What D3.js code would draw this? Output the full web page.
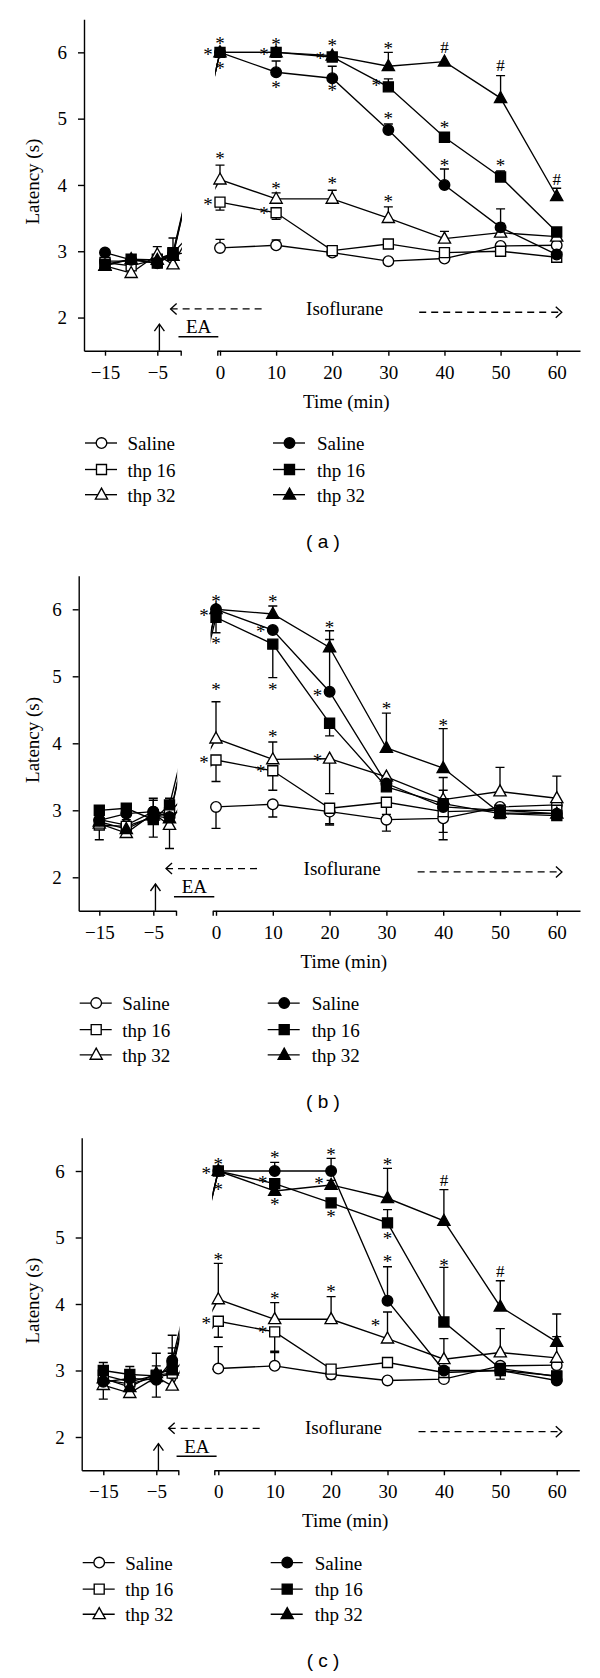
<!DOCTYPE html>
<html><head><meta charset="utf-8">
<script src="https://cdn.jsdelivr.net/npm/d3@7"></script>
<style>body{margin:0;background:#fff}svg{display:block}svg text{fill:#000;opacity:0.999}</style>
</head><body>
<svg id="chart" width="600" height="1678"></svg>
<script>
// ---------- data ----------
const times = [-15, -10, -5, -2, 0, 10, 20, 30, 40, 50, 60];
const leftTicks = [-15, -5];
const rightTicks = [0, 10, 20, 30, 40, 50, 60];
const yTicks = [2, 3, 4, 5, 6];
const legendLabels = ["Saline", "thp 16", "thp 32", "Saline", "thp 16", "thp 32"];
const panelLabels = ["( a )", "( b )", "( c )"];

// panel (a)
const aOpenSaline   = [2.85, 2.85, 2.88, 2.95, 3.05, 3.09, 2.98, 2.85, 2.89, 3.08, 3.09];
const aOpenThp16    = [2.83, 2.78, 2.88, 2.97, 3.74, 3.58, 3.01, 3.11, 2.98, 3.00, 2.91];
const aOpenThp32    = [2.78, 2.67, 2.95, 2.80, 4.08, 3.79, 3.79, 3.50, 3.19, 3.28, 3.22];
const aFilledSaline = [2.98, 2.87, 2.82, 2.95, 6.00, 5.70, 5.61, 4.83, 4.00, 3.36, 2.95];
const aFilledThp16  = [2.80, 2.88, 2.82, 2.98, 6.00, 6.00, 5.93, 5.48, 4.72, 4.12, 3.29];
const aFilledThp32  = [2.78, 2.88, 2.87, 2.93, 6.00, 6.00, 5.95, 5.79, 5.86, 5.31, 3.83];
const aErrOpenSaline   = [null, null, null, null, 3.18, 3.17, null, null, null, null, null];
const aErrOpenThp16    = [null, null, null, 3.20, 3.62, 3.48, null, null, null, null, null];
const aErrOpenThp32    = [null, null, 3.07, null, 4.30, 3.88, 3.92, 3.67, 3.30, 3.42, null];
const aErrFilledSaline = [null, null, null, null, null, 5.87, 5.79, 4.92, 4.24, 3.64, null];
const aErrFilledThp16  = [null, null, null, null, null, null, null, 5.60, null, 4.21, null];
const aErrFilledThp32  = [null, null, null, null, null, null, null, 6.00, null, 5.65, 3.95];
const aMarks = [
  [0, 6.17, "*", "c"], [0, 6.0, "*", "l"], [0, 5.79, "*", "c"],
  [10, 6.15, "*", "c"], [10, 6.0, "*", "l"], [10, 5.51, "*", "c"],
  [0, 4.43, "*", "c"], [0, 3.75, "*", "l"], [10, 3.98, "*", "c"], [10, 3.60, "*", "l"],
  [20, 6.14, "*", "c"], [20, 5.94, "*", "l"], [20, 5.46, "*", "c"],
  [30, 6.09, "*", "c"], [30, 5.54, "*", "l"], [30, 5.04, "*", "c"],
  [40, 6.07, "#", "c"], [40, 4.91, "*", "c"], [40, 4.33, "*", "c"],
  [50, 5.81, "#", "c"], [50, 4.33, "*", "c"], [60, 4.08, "#", "c"],
  [20, 4.06, "*", "c"], [30, 3.79, "*", "c"]
];

// panel (b)
const bOpenSaline   = [2.86, 2.78, 2.98, 2.95, 3.05, 3.09, 2.98, 2.86, 2.88, 3.05, 3.08];
const bOpenThp16    = [2.78, 2.76, 2.90, 2.96, 3.75, 3.59, 3.03, 3.12, 2.98, 3.00, 3.00];
const bOpenThp32    = [2.80, 2.66, 2.95, 2.78, 4.07, 3.76, 3.77, 3.50, 3.16, 3.28, 3.18];
const bFilledSaline = [2.85, 2.95, 2.98, 2.90, 6.00, 5.69, 4.77, 3.40, 3.05, 3.00, 2.95];
const bFilledThp16  = [3.00, 3.03, 2.86, 3.08, 5.88, 5.48, 4.30, 3.35, 3.10, 2.95, 2.92];
const bFilledThp32  = [2.83, 2.72, 2.92, 2.88, 6.00, 5.93, 5.43, 3.93, 3.63, 2.96, 2.95];
const bErrOpenSaline   = [null, null, null, null, 2.73, 2.90, 2.80, 2.69, 2.56, null, null];
const bErrOpenThp16    = [2.56, 2.86, 2.60, 2.43, 3.43, 3.30, 2.78, 2.94, 2.67, null, null];
const bErrOpenThp32    = [null, null, 3.18, null, 4.62, 4.02, 3.25, null, 3.49, 3.64, 3.51];
const bErrFilledSaline = [null, null, 3.15, null, null, null, 5.55, null, null, null, null];
const bErrFilledThp16  = [null, null, null, 3.18, 5.65, 4.98, 4.11, null, 3.30, null, null];
const bErrFilledThp32  = [null, null, null, null, null, 6.05, 5.68, 4.45, 4.22, null, null];
const bMarks = [
  [0, 6.16, "*", "c"], [0, 5.95, "*", "l"], [0, 5.53, "*", "c"],
  [10, 6.15, "*", "c"], [10, 5.71, "*", "l"], [10, 4.84, "*", "c"],
  [20, 5.77, "*", "c"], [20, 4.75, "*", "l"],
  [0, 4.84, "*", "c"], [0, 3.75, "*", "l"], [10, 4.14, "*", "c"], [10, 3.62, "*", "l"],
  [20, 3.78, "*", "l"], [30, 4.55, "*", "c"], [40, 4.31, "*", "c"]
];

// panel (c)
const cOpenSaline   = [2.86, 2.80, 2.90, 2.95, 3.03, 3.07, 2.94, 2.85, 2.87, 3.07, 3.08];
const cOpenThp16    = [2.93, 2.83, 2.93, 2.96, 3.74, 3.58, 3.02, 3.12, 2.97, 3.00, 2.92];
const cOpenThp32    = [2.78, 2.66, 2.90, 2.77, 4.07, 3.77, 3.77, 3.48, 3.17, 3.27, 3.19];
const cFilledSaline = [2.83, 2.88, 2.86, 3.15, 6.00, 6.00, 6.00, 4.05, 3.00, 3.00, 2.85];
const cFilledThp16  = [3.00, 2.94, 2.92, 3.06, 6.00, 5.81, 5.52, 5.22, 3.73, 3.03, 2.91];
const cFilledThp32  = [2.88, 2.75, 2.96, 3.00, 6.00, 5.70, 5.79, 5.59, 5.25, 3.96, 3.43];
const cErrOpenSaline   = [2.57, null, 2.60, null, 3.36, 3.27, null, null, null, null, null];
const cErrOpenThp16    = [null, null, null, null, 3.50, 3.29, 2.87, null, null, 2.87, null];
const cErrOpenThp32    = [null, null, 3.07, null, 4.61, 4.02, 4.11, 3.88, 3.48, 3.63, 3.51];
const cErrFilledSaline = [3.12, 3.06, 3.26, 3.53, null, 6.13, 6.19, 4.56, null, null, null];
const cErrFilledThp16  = [null, null, null, 3.34, null, null, null, 5.42, 4.55, null, null];
const cErrFilledThp32  = [null, null, null, 3.26, null, null, 5.86, 6.04, 5.72, 4.35, 3.85];
const cMarks = [
  [0, 6.14, "*", "c"], [0, 6.0, "*", "l"], [0, 5.76, "*", "c"],
  [10, 6.24, "*", "c"], [10, 5.86, "*", "l"], [10, 5.54, "*", "c"],
  [20, 6.29, "*", "c"], [20, 5.85, "*", "l"], [20, 5.35, "*", "c"],
  [30, 6.14, "*", "c"], [30, 5.02, "*", "c"], [30, 4.67, "*", "c"],
  [0, 4.71, "*", "c"], [0, 3.74, "*", "l"], [10, 4.12, "*", "c"], [10, 3.61, "*", "l"],
  [20, 4.22, "*", "c"], [30, 3.72, "*", "l"],
  [40, 5.86, "#", "c"], [40, 4.62, "*", "c"], [50, 4.49, "#", "c"]
];

// ---------- layout / style ----------
const FONT = "'Liberation Serif','Times New Roman',serif";
const SANS = "'Liberation Sans',Arial,sans-serif";
const styles = [
  {shape: "circle", fill: "#fff"}, {shape: "square", fill: "#fff"}, {shape: "triangle", fill: "#fff"},
  {shape: "circle", fill: "#000"}, {shape: "square", fill: "#000"}, {shape: "triangle", fill: "#000"}
];
const geoms = [
  {yAxisX: 84, yTop: 19.2, yBottom: 350.7, l15: 105, l5: 157.3, lEnd: 180.7, rStart: 217.3, r0: 220, r60: 556.7, rEnd: 580},
  {yAxisX: 78.7, yTop: 575.8, yBottom: 910.8, l15: 99.3, l5: 153.3, lEnd: 176, rStart: 212.7, r0: 216, r60: 556.8, rEnd: 580},
  {yAxisX: 81.7, yTop: 1137.75, yBottom: 1470.25, l15: 103.3, l5: 156.3, lEnd: 178.3, rStart: 214.3, r0: 218.3, r60: 556.7, rEnd: 579.3}
];
const panels = [
  {series: [aOpenSaline, aOpenThp16, aOpenThp32, aFilledSaline, aFilledThp16, aFilledThp32],
   errs: [aErrOpenSaline, aErrOpenThp16, aErrOpenThp32, aErrFilledSaline, aErrFilledThp16, aErrFilledThp32], marks: aMarks},
  {series: [bOpenSaline, bOpenThp16, bOpenThp32, bFilledSaline, bFilledThp16, bFilledThp32],
   errs: [bErrOpenSaline, bErrOpenThp16, bErrOpenThp32, bErrFilledSaline, bErrFilledThp16, bErrFilledThp32], marks: bMarks},
  {series: [cOpenSaline, cOpenThp16, cOpenThp32, cFilledSaline, cFilledThp16, cFilledThp32],
   errs: [cErrOpenSaline, cErrOpenThp16, cErrOpenThp32, cErrFilledSaline, cErrFilledThp16, cErrFilledThp32], marks: cMarks}
];

const svg = d3.select("#chart");
const SW = 1.35;

function markerPath(shape) {
  if (shape === "circle") return d3.symbol(d3.symbolCircle, Math.PI * 5.3 * 5.3)();
  if (shape === "square") return "M-5,-5H5V5H-5Z";
  return "M0,-6.6L6.1,4.4L-6.1,4.4Z";
}

function styleAxis(ax) {
  ax.attr("font-family", FONT).attr("font-size", 19);
  ax.selectAll("path,line").attr("stroke", "#000").attr("stroke-width", 1.4);
  ax.selectAll("text").attr("fill", "#000");
}

panels.forEach((p, idx) => {
  const g = geoms[idx];
  const Y = d3.scaleLinear().domain([1.5, 6.5]).range([g.yBottom, g.yTop]);
  const L = d3.scaleLinear().domain([-15, -5]).range([g.l15, g.l5]);
  const R = d3.scaleLinear().domain([0, 60]).range([g.r0, g.r60]);
  const X = t => (t < 0 ? L(t) : R(t));
  const root = svg.append("g");

  // clip for the axis break
  const cid = "brk" + idx;
  const cp = root.append("clipPath").attr("id", cid);
  cp.append("rect").attr("x", 0).attr("y", g.yTop - 30).attr("width", g.lEnd + 1.2).attr("height", g.yBottom - g.yTop + 60);
  cp.append("rect").attr("x", g.rStart - 2).attr("y", g.yTop - 30).attr("width", 600).attr("height", g.yBottom - g.yTop + 60);

  // axes
  const yAxis = d3.axisLeft(Y).tickValues(yTicks).tickSize(6).tickSizeOuter(0).tickPadding(11).tickFormat(d3.format("d"));
  root.append("g").attr("transform", `translate(${g.yAxisX},0)`).call(yAxis).call(styleAxis);

  const Lax = L.copy().domain([L.invert(g.yAxisX), L.invert(g.lEnd)]).range([g.yAxisX, g.lEnd]);
  const lEndT = L.invert(g.lEnd);
  const fmt = d3.format("d");
  const xAxisL = d3.axisBottom(Lax).tickValues(leftTicks.concat([lEndT])).tickSize(5).tickSizeOuter(0).tickPadding(9.5)
    .tickFormat(d => (leftTicks.includes(d) ? fmt(d) : ""));
  root.append("g").attr("transform", `translate(0,${g.yBottom})`).call(xAxisL).call(styleAxis);

  const rStartT = R.invert(g.rStart);
  const Rax = R.copy().domain([rStartT, R.invert(g.rEnd)]).range([g.rStart, g.rEnd]);
  const xAxisR = d3.axisBottom(Rax).tickValues([rStartT].concat(rightTicks)).tickSize(5).tickSizeOuter(0).tickPadding(9.5)
    .tickFormat(d => (rightTicks.includes(d) ? fmt(d) : ""));
  root.append("g").attr("transform", `translate(0,${g.yBottom})`).call(xAxisR).call(styleAxis);

  // axis titles
  root.append("text").attr("transform", `translate(32,${Y(4.05)}) rotate(-90)`)
    .attr("text-anchor", "middle").attr("dominant-baseline", "central")
    .attr("font-family", FONT).attr("font-size", 19).text("Latency (s)");
  root.append("text").attr("x", R(22.5)).attr("y", g.yBottom + 57).attr("text-anchor", "middle")
    .attr("font-family", FONT).attr("font-size", 19).text("Time (min)");

  // annotations: EA, arrows, Isoflurane
  const ink = sel => sel.attr("stroke", "#000").attr("stroke-width", SW).attr("fill", "none");
  const ax5 = L(-4.6);
  root.append("path").attr("d", `M${ax5},${g.yBottom}V${Y(1.9)}`).call(ink);
  root.append("path").attr("d", `M${ax5 - 5},${Y(1.9) + 7}L${ax5},${Y(1.9)}L${ax5 + 5},${Y(1.9) + 7}`).call(ink);
  root.append("text").attr("x", R(-3.8)).attr("y", Y(1.765)).attr("text-anchor", "middle")
    .attr("font-family", FONT).attr("font-size", 19).text("EA");
  root.append("path").attr("d", `M${R(-7.4)},${Y(1.71)}H${R(-0.3)}`).call(ink);

  const yl = Y(2.13), yr = Y(2.08);
  const tipL = R(-8.8), endL = R(7.8);
  root.append("path").attr("d", `M${tipL},${yl}H${endL}`).call(ink).attr("stroke-dasharray", "7,5");
  root.append("path").attr("d", `M${tipL + 6},${yl - 5.5}L${tipL},${yl}L${tipL + 6},${yl + 5.5}`).call(ink);
  const startR = R(35.5), tipR = R(60.9);
  root.append("path").attr("d", `M${startR},${yr}H${tipR}`).call(ink).attr("stroke-dasharray", "7,5");
  root.append("path").attr("d", `M${tipR - 6},${yr - 5.5}L${tipR},${yr}L${tipR - 6},${yr + 5.5}`).call(ink);
  root.append("text").attr("x", R(22.2)).attr("y", Y(2.04)).attr("text-anchor", "middle")
    .attr("font-family", FONT).attr("font-size", 19).text("Isoflurane");

  // error bars
  p.errs.forEach((errArr, si) => {
    errArr.forEach((e, i) => {
      if (e === null) return;
      const v = p.series[si][i];
      const x = X(times[i]);
      root.append("path").attr("d", `M${x},${Y(v)}V${Y(e)}M${x - 4.5},${Y(e)}H${x + 4.5}`).call(ink);
    });
  });

  // lines
  const line = d3.line().x((d, i) => X(times[i])).y(d => Y(d));
  const lineG = root.append("g").attr("clip-path", `url(#${cid})`);
  p.series.forEach(s => {
    lineG.append("path").attr("d", line(s)).call(ink);
  });

  // markers
  p.series.forEach((s, si) => {
    const st = styles[si];
    root.append("g").selectAll("path").data(s).join("path")
      .attr("transform", (d, i) => `translate(${X(times[i])},${Y(d)})`)
      .attr("d", markerPath(st.shape))
      .attr("fill", st.fill).attr("stroke", "#000").attr("stroke-width", SW);
  });

  // significance marks
  p.marks.forEach(([t, v, sym, place]) => {
    const x = X(t) + (place === "l" ? -12 : 0);
    const fs = sym === "*" ? 19 : 17;
    const off = sym === "*" ? 9 : 5.7;
    root.append("text").attr("x", x).attr("y", Y(v) + off).attr("text-anchor", "middle")
      .attr("font-family", FONT).attr("font-size", fs).text(sym);
  });

  // legend
  const rows = [92.3, 118.8, 144];
  legendLabels.forEach((lab, li) => {
    const col = li < 3 ? 0 : 1;
    const ry = g.yBottom + rows[li % 3];
    const x0 = g.yAxisX + (col === 0 ? 1 : 189);
    const st = styles[li];
    root.append("path").attr("d", `M${x0},${ry}H${x0 + 32}`).call(ink);
    root.append("path").attr("transform", `translate(${x0 + 16.5},${ry})`).attr("d", markerPath(st.shape))
      .attr("fill", st.fill).attr("stroke", "#000").attr("stroke-width", SW);
    root.append("text").attr("x", x0 + 42.5 + (col === 1 ? 1.5 : 0)).attr("y", ry + 7)
      .attr("font-family", FONT).attr("font-size", 19).text(lab);
  });

  // panel label
  root.append("text").attr("x", 323).attr("y", g.yBottom + 197).attr("text-anchor", "middle")
    .attr("font-family", SANS).attr("font-size", 19).text(panelLabels[idx]);
});
</script>
</body></html>
